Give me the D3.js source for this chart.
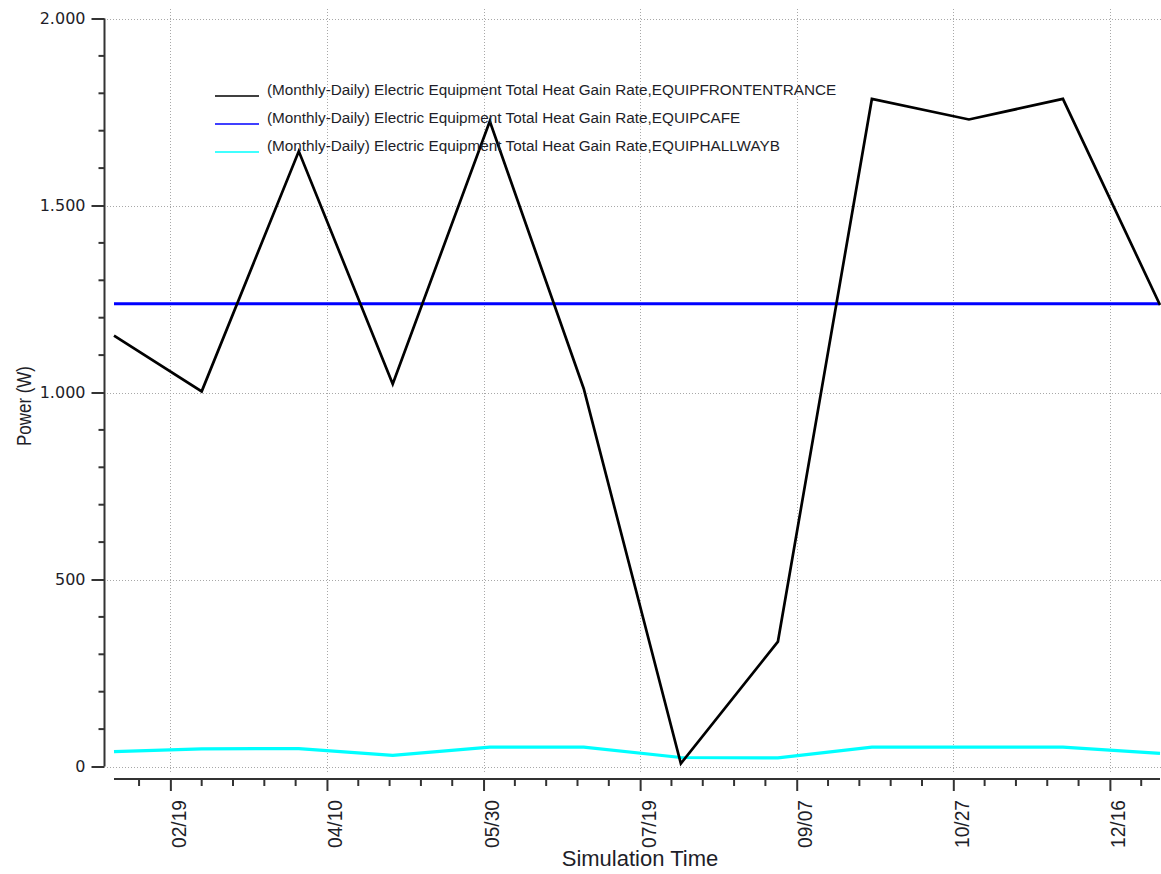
<!DOCTYPE html>
<html>
<head>
<meta charset="utf-8">
<script src="https://cdn.jsdelivr.net/npm/d3@7"></script>
<style>
  html, body { margin: 0; padding: 0; background: #fff; }
  svg { display: block; }
</style>
</head>
<body>
<svg id="chart" width="1161" height="874"></svg>
<script>
// Monthly timestamps of the report (one value per month)
const months = ["2013-02-01", "2013-03-01", "2013-04-01", "2013-05-01", "2013-06-01", "2013-07-01",
                "2013-08-01", "2013-09-01", "2013-10-01", "2013-11-01", "2013-12-01", "2014-01-01"];

// Electric equipment total heat gain rate (W)
const frontEntrance = [1152, 1003, 1645, 1023, 1725, 1010, 8, 334, 1785, 1730, 1785, 1234];
const cafe          = [1237, 1237, 1237, 1237, 1237, 1237, 1237, 1237, 1237, 1237, 1237, 1237];
const hallwayB      = [40, 47, 48, 30, 52, 52, 24, 23, 52, 52, 52, 35];

const seriesNames = [
  "(Monthly-Daily) Electric Equipment Total Heat Gain Rate,EQUIPFRONTENTRANCE",
  "(Monthly-Daily) Electric Equipment Total Heat Gain Rate,EQUIPCAFE",
  "(Monthly-Daily) Electric Equipment Total Heat Gain Rate,EQUIPHALLWAYB"
];
const seriesColors = ["#000000", "#0000ff", "#00ffff"];

// Axis ticks
const xMajorTicks = ["2013-02-19", "2013-04-10", "2013-05-30", "2013-07-19", "2013-09-07", "2013-10-27", "2013-12-16"];
const yMajorTicks = [0, 500, 1000, 1500, 2000];
const yMinorTicks = [100, 200, 300, 400, 600, 700, 800, 900, 1100, 1200, 1300, 1400, 1600, 1700, 1800, 1900];

const xTitle = "Simulation Time";
const yTitle = "Power (W)";

const parse = d3.utcParse("%Y-%m-%d");
const fmtDate = d3.utcFormat("%m/%d");
const locale = d3.formatLocale({ decimal: ",", thousands: ".", grouping: [3], currency: ["", ""] });
const fmtY = locale.format(",");

const svg = d3.select("#chart");
svg.append("rect").attr("width", 1161).attr("height", 874).attr("fill", "#fff");

const x = d3.scaleUtc()
  .domain([parse(months[0]), parse(months[months.length - 1])])
  .range([114, 1160]);
const y = d3.scaleLinear().domain([0, 2000]).range([766.5, 18.5]);

const xMajor = xMajorTicks.map(parse);
const xMinor = d3.utcDay.range(d3.utcDay.offset(xMajor[0], -10), parse(months[months.length - 1]), 10)
  .filter(d => !xMajor.some(m => +m === +d));

// Grid (dotted)
const grid = svg.append("g").attr("stroke", "#a8a8a8").attr("stroke-width", 1).attr("stroke-dasharray", "1,2");
grid.selectAll("line.h").data(yMajorTicks).join("line")
  .attr("x1", 107).attr("x2", 1161)
  .attr("y1", d => Math.round(y(d)) + 0.5).attr("y2", d => Math.round(y(d)) + 0.5);
grid.selectAll("line.v").data(xMajor).join("line")
  .attr("x1", d => Math.round(x(d)) + 0.5).attr("x2", d => Math.round(x(d)) + 0.5)
  .attr("y1", 9).attr("y2", 773);

// Y axis (left, detached from the canvas)
const yAxis = svg.append("g").attr("transform", "translate(104.5,0)")
  .call(d3.axisLeft(y).tickValues(yMajorTicks).tickSize(13).tickPadding(6).tickFormat(fmtY));
yAxis.select(".domain").attr("d", `M0,${y(2000)}V${y(0)}`).attr("stroke", "#333").attr("stroke-width", 2);
yAxis.selectAll(".tick line").attr("stroke", "#333").attr("stroke-width", 2);
yAxis.selectAll(".tick text")
  .attr("font-family", "DejaVu Sans, Verdana, sans-serif").attr("font-size", 16).attr("fill", "#1e1e28");
svg.append("g").attr("transform", "translate(104.5,0)")
  .selectAll("line").data(yMinorTicks).join("line")
  .attr("x1", -6).attr("x2", 0)
  .attr("y1", d => y(d)).attr("y2", d => y(d))
  .attr("stroke", "#333").attr("stroke-width", 2);

// X axis (bottom, detached from the canvas)
const xAxis = svg.append("g").attr("transform", "translate(0,779)")
  .call(d3.axisBottom(x).tickValues(xMajor).tickSize(12).tickFormat(""));
xAxis.select(".domain").attr("d", `M${x.range()[0]},0H${x.range()[1]}`).attr("stroke", "#333").attr("stroke-width", 2);
xAxis.selectAll(".tick line").attr("stroke", "#333").attr("stroke-width", 2);
svg.append("g").attr("transform", "translate(0,779)")
  .selectAll("line").data(xMinor).join("line")
  .attr("x1", d => x(d)).attr("x2", d => x(d))
  .attr("y1", 0).attr("y2", 7)
  .attr("stroke", "#333").attr("stroke-width", 2);

// Rotated tick labels
svg.append("g").selectAll("text").data(xMajor).join("text")
  .attr("transform", d => `translate(${x(d) + 15.5},800) rotate(-90)`)
  .attr("text-anchor", "end")
  .attr("font-family", "Liberation Sans, Arial, sans-serif")
  .attr("font-size", 21)
  .attr("textLength", 48).attr("lengthAdjust", "spacingAndGlyphs")
  .attr("fill", "#1e1e28")
  .text(d => fmtDate(d));

// Axis titles
svg.append("text")
  .attr("x", 640).attr("y", 866)
  .attr("text-anchor", "middle")
  .attr("font-family", "Liberation Sans, Arial, sans-serif").attr("font-size", 22)
  .attr("fill", "#1e1e28")
  .text(xTitle);
svg.append("text")
  .attr("transform", "translate(30.5,406) rotate(-90)")
  .attr("text-anchor", "middle")
  .attr("font-family", "Liberation Sans, Arial, sans-serif").attr("font-size", 21)
  .attr("textLength", 80).attr("lengthAdjust", "spacingAndGlyphs")
  .attr("fill", "#1e1e28")
  .text(yTitle);

// Series lines
const dates = months.map(parse);
const line = d3.line().x((d, i) => x(dates[i])).y(d => y(d));
const plot = svg.append("g").attr("fill", "none").attr("stroke-linejoin", "miter");
plot.append("path").datum(cafe).attr("d", line).attr("stroke", seriesColors[1]).attr("stroke-width", 3);
plot.append("path").datum(hallwayB).attr("d", line).attr("stroke", seriesColors[2]).attr("stroke-width", 3.2);
plot.append("path").datum(frontEntrance).attr("d", line).attr("stroke", seriesColors[0]).attr("stroke-width", 2.7);

// Legend
const legend = svg.append("g").selectAll("g").data(seriesNames).join("g")
  .attr("transform", (d, i) => `translate(215,${96 + i * 28})`);
legend.append("line")
  .attr("x1", 0).attr("x2", 44).attr("y1", 0).attr("y2", 0)
  .attr("stroke", (d, i) => seriesColors[i]).attr("stroke-width", 1.6);
legend.append("text")
  .attr("x", 52).attr("y", -1.5)
  .attr("font-family", "Liberation Sans, Arial, sans-serif").attr("font-size", 15.3)
  .attr("fill", "#1e1e28")
  .text(d => d);
</script>
</body>
</html>
